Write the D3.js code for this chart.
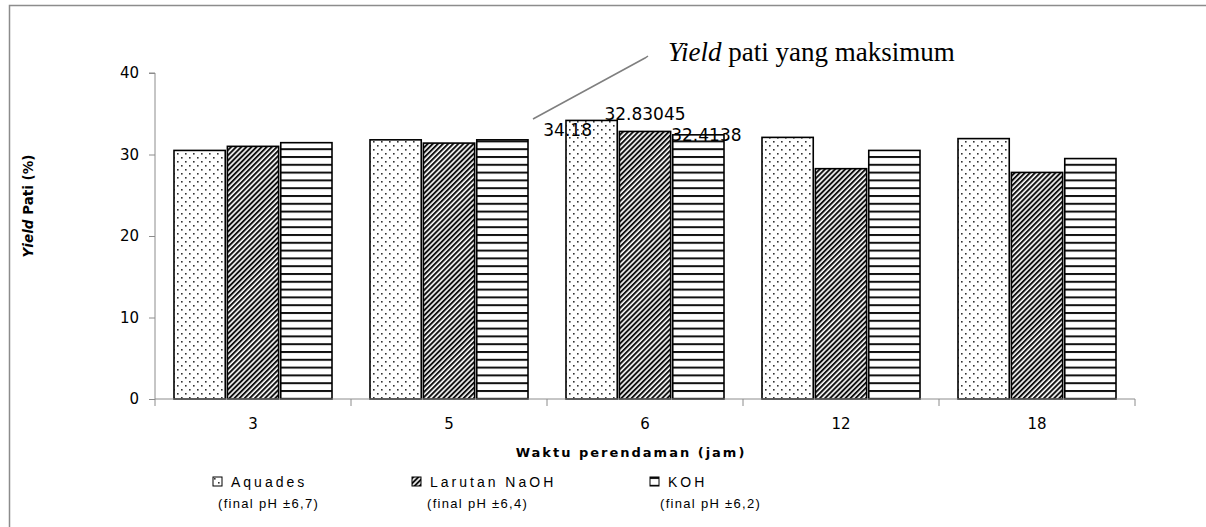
<!DOCTYPE html>
<html>
<head>
<meta charset="utf-8">
<script src="https://cdn.jsdelivr.net/npm/d3@7"></script>
<style>
  body { margin: 0; background: #fff; }
  svg { display: block; }
</style>
</head>
<body>
<svg id="chart" width="1206" height="527"></svg>
<script>
// data
var categories = ["3", "5", "6", "12", "18"];
var seriesNames = ["Aquades", "Larutan NaOH", "KOH"];
var seriesNotes = ["(final pH \u00b16,7)", "(final pH \u00b16,4)", "(final pH \u00b16,2)"];
var aquades = [30.5, 31.8, 34.18, 32.1, 31.95];
var naoh = [31.0, 31.4, 32.83045, 28.26, 27.8];
var koh = [31.45, 31.8, 32.4138, 30.5, 29.5];
var yTicks = [0, 10, 20, 30, 40];
var labelled = 2; // index of group with value labels

var series = [aquades, naoh, koh];
var patternIds = ["dots", "diag", "horiz"];

var svg = d3.select("#chart");
var margin = {left: 155, right: 71, top: 73, bottom: 128};
var W = 1206, H = 527;

// outer frame
svg.append("rect")
  .attr("x", 9.5).attr("y", 5.5)
  .attr("width", 1220).attr("height", 560)
  .attr("fill", "none").attr("stroke", "#8c8c8c").attr("stroke-width", 1.5);

// patterns
var defs = svg.append("defs");
var p1 = defs.append("pattern").attr("id", "dots")
  .attr("patternUnits", "userSpaceOnUse").attr("width", 8).attr("height", 8);
p1.append("rect").attr("width", 8).attr("height", 8).attr("fill", "#fff");
p1.append("rect").attr("x", 1).attr("y", 1).attr("width", 1.6).attr("height", 1.6).attr("fill", "#333");
p1.append("rect").attr("x", 5).attr("y", 5).attr("width", 1.6).attr("height", 1.6).attr("fill", "#333");

var p2 = defs.append("pattern").attr("id", "diag")
  .attr("patternUnits", "userSpaceOnUse").attr("width", 3.6).attr("height", 3.6)
  .attr("patternTransform", "rotate(45)");
p2.append("rect").attr("width", 3.6).attr("height", 3.6).attr("fill", "#fff");
p2.append("rect").attr("width", 2).attr("height", 3.6).attr("fill", "#111");

var p3 = defs.append("pattern").attr("id", "horiz")
  .attr("patternUnits", "userSpaceOnUse").attr("width", 8).attr("height", 7.8);
p3.append("rect").attr("width", 8).attr("height", 7.8).attr("fill", "#fff");
p3.append("rect").attr("y", 0).attr("width", 8).attr("height", 2).attr("fill", "#111");

var x = d3.scaleBand().domain(categories)
  .range([margin.left, W - margin.right]).paddingInner(0).paddingOuter(0);
var x1 = d3.scaleBand().domain(d3.range(series.length))
  .range([19, x.bandwidth() - 19]).paddingInner(0.04);
var y = d3.scaleLinear().domain([0, 40]).range([H - margin.bottom, margin.top]);

// bars
series.forEach(function(vals, si) {
  svg.append("g").selectAll("rect")
    .data(vals)
    .enter().append("rect")
    .attr("x", function(d, i) { return x(categories[i]) + x1(si); })
    .attr("y", function(d) { return y(d); })
    .attr("width", x1.bandwidth())
    .attr("height", function(d) { return y(0) - y(d); })
    .attr("fill", "url(#" + patternIds[si] + ")")
    .attr("stroke", "#000").attr("stroke-width", 1.6);
});

// y axis
var yAxis = svg.append("g")
  .attr("transform", "translate(" + margin.left + ",0)")
  .call(d3.axisLeft(y).tickValues(yTicks).tickSize(6).tickPadding(10));
yAxis.selectAll("path, line").attr("stroke", "#8c8c8c");
yAxis.select(".domain").attr("d", "M-6," + y(40) + "H0V" + y(0));
yAxis.selectAll("text").attr("font-family", "DejaVu Sans").attr("font-size", 15).attr("fill", "#000");

// x axis
var xAxis = svg.append("g")
  .attr("transform", "translate(0," + y(0) + ")")
  .call(d3.axisBottom(x).tickSize(0).tickPadding(19));
xAxis.select(".domain").attr("stroke", "#8c8c8c").attr("d", "M" + margin.left + ",0H" + (W - margin.right));
xAxis.selectAll("text").attr("font-family", "DejaVu Sans").attr("font-size", 15).attr("fill", "#000");
var bounds = categories.map(function(c) { return x(c); }).concat([x(categories[4]) + x.bandwidth()]);
svg.append("g").selectAll("line").data(bounds).enter().append("line")
  .attr("x1", function(d) { return d; }).attr("x2", function(d) { return d; })
  .attr("y1", y(0)).attr("y2", y(0) + 7)
  .attr("stroke", "#8c8c8c");

// value labels on the max group
var labelDx = [-24, 0, 8];
var labelDy = [16, -11, 6];
series.forEach(function(vals, si) {
  var v = vals[labelled];
  svg.append("text")
    .attr("x", x(categories[labelled]) + x1(si) + x1.bandwidth() / 2 + labelDx[si])
    .attr("y", y(v) + labelDy[si])
    .attr("font-family", "DejaVu Sans").attr("font-size", 17)
    .attr("text-anchor", "middle")
    .text(v);
});

// annotation
svg.append("path")
  .attr("d", "M533,119L645,58L648,56")
  .attr("fill", "none").attr("stroke", "#7f7f7f").attr("stroke-width", 1.5);
var ann = svg.append("text").attr("x", 668).attr("y", 61)
  .attr("font-family", "Liberation Serif").attr("font-size", 27);
ann.append("tspan").attr("font-style", "italic").text("Yield");
ann.append("tspan").text(" pati yang maksimum");

// axis titles
var yt = svg.append("text")
  .attr("transform", "translate(33,206) rotate(-90)")
  .attr("text-anchor", "middle")
  .attr("font-family", "DejaVu Sans").attr("font-size", 13.5).attr("font-weight", "bold");
yt.append("tspan").attr("font-style", "italic").text("Yield");
yt.append("tspan").text(" Pati (%)");

svg.append("text")
  .attr("x", 631).attr("y", 457)
  .attr("text-anchor", "middle")
  .attr("font-family", "DejaVu Sans").attr("font-size", 13).attr("font-weight", "bold")
  .attr("letter-spacing", 2)
  .text("Waktu perendaman (jam)");

// legend
var legX = [213, 412, 650];
var noteDx = [5, 15, 10];
seriesNames.forEach(function(name, i) {
  var g = svg.append("g").attr("transform", "translate(" + legX[i] + ",477)");
  g.append("rect").attr("width", 9).attr("height", 9)
    .attr("fill", "url(#" + patternIds[i] + ")").attr("stroke", "#000").attr("stroke-width", 1);
  g.append("text").attr("x", 18).attr("y", 10)
    .attr("font-family", "Liberation Sans").attr("font-size", 14)
    .attr("letter-spacing", 3)
    .text(name);
  g.append("text").attr("x", noteDx[i]).attr("y", 31)
    .attr("font-family", "Liberation Sans").attr("font-size", 13)
    .attr("letter-spacing", 1.3)
    .text(seriesNotes[i]);
});
</script>
</body>
</html>
